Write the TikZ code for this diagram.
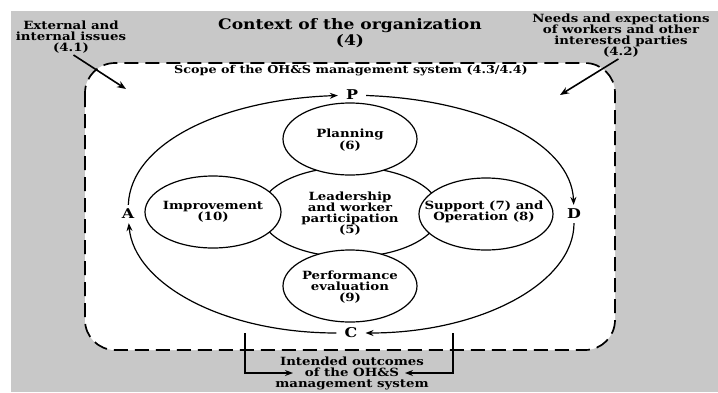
\documentclass[tikz,border=0pt]{standalone}
\usepackage{fontspec}
\newfontfamily\dvserif[FakeStretch=1.18]{DejaVu Serif}
\usetikzlibrary{arrows.meta,shapes.geometric}
\definecolor{bggray}{RGB}{200,200,200}

\begin{document}
\begin{tikzpicture}[x=1pt,y=1pt,
        txt/.style={font=\dvserif\bfseries\fontsize{11.3}{11}\selectfont,align=center,inner sep=0pt},
        blob/.style={ellipse,draw,line width=1.2pt,fill=white,inner sep=0pt},
        pdca/.style={font=\dvserif\bfseries\fontsize{13.5}{13.5}\selectfont,inner xsep=8pt,inner ysep=4pt},
        cyc/.style={line width=1.2pt,-{Stealth[length=8pt,width=6pt]}},
        push/.style={line width=1.6pt,-{Stealth[length=9pt,width=7pt]}},
        brk/.style={line width=1.1pt,-{Stealth[length=8pt,width=6pt]}}]
        \useasboundingbox (0,0) rectangle (718,-392);
        \fill[bggray] (11,-11) rectangle (718,-392);
        \draw[line width=1.7pt,dash pattern=on 14pt off 7pt,fill=white,rounded corners=30pt]
            (85,-63) rectangle (615,-350);

        \node[txt,font=\dvserif\bfseries\fontsize{14.5}{14}\selectfont] (title) at (350,-33) {Context of the organization\\(4)};
        \node[txt] (ext) at (71,-37) {External and\\internal issues\\(4.1)};
        \node[txt] (needs) at (621,-35.5) {Needs and expectations\\of workers and other\\interested parties\\(4.2)};
        \node[txt,font=\dvserif\bfseries\fontsize{10.8}{10.8}\selectfont] (scope) at (351,-71) {Scope of the OH\&S management system (4.3/4.4)};

        \coordinate (extTip) at (126,-89);
        \coordinate (needsTip) at (560,-95);
        \draw[push,shorten <=3pt] (ext.south) -- (extTip);
        \draw[push,shorten <=3pt] (needs.south) -- (needsTip);

        \node[pdca] (P) at (352,-95) {P};
        \node[pdca] (D) at (574,-214) {D};
        \node[pdca] (C) at (351,-333) {C};
        \node[pdca] (A) at (128,-214) {A};
        \draw[cyc] (A) to[out=88,in=182,out distance=62pt,in distance=116pt] (P);
        \draw[cyc] (P) to[out=-2,in=92,out distance=115pt,in distance=62pt] (D);
        \draw[cyc] (D) to[out=-90,in=0,out distance=60pt,in distance=115pt] (C);
        \draw[cyc] (C) to[out=180,in=-85,out distance=115pt,in distance=60pt] (A);

        \node[blob,minimum width=180,minimum height=90] (lead) at (350,-212) {};
        \node[blob,minimum width=134,minimum height=72] (plan) at (350,-139) {};
        \node[blob,minimum width=136,minimum height=72] (impr) at (213,-212) {};
        \node[blob,minimum width=134,minimum height=72] (supp) at (486,-214) {};
        \node[blob,minimum width=134,minimum height=72] (perf) at (350,-286) {};
        \node[txt] (leadT) at (350,-214) {Leadership\\and worker\\participation\\(5)};
        \node[txt] (planT) at (350,-140.5) {Planning\\(6)};
        \node[txt] (imprT) at (213,-212) {Improvement\\(10)};
        \node[txt] (suppT) at (484,-212) {Support (7) and\\Operation (8)};
        \node[txt] (perfT) at (350,-287) {Performance\\evaluation\\(9)};

        \node[txt] (outc) at (352,-373) {Intended outcomes\\of the OH\&S\\management system};
        \coordinate (lTop) at (245,-333);
        \coordinate (lTip) at (293,-373);
        \coordinate (rTop) at (453,-333);
        \coordinate (rTip) at (405,-373);
        \draw[brk] (lTop) |- (lTip);
        \draw[brk] (rTop) |- (rTip);
\end{tikzpicture}
\end{document}
